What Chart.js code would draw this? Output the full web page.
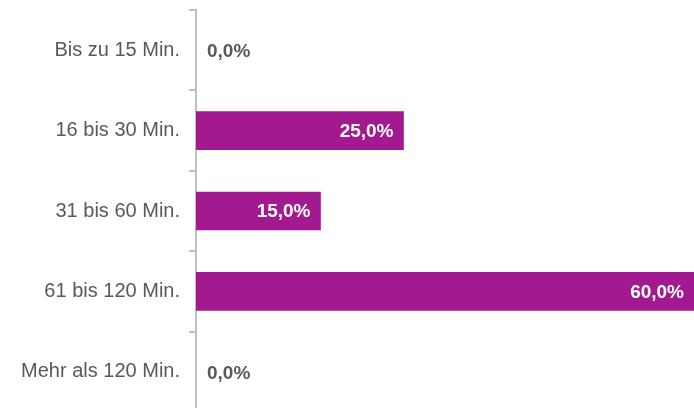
<!DOCTYPE html>
<html>
<head>
<meta charset="utf-8">
<script src="https://cdn.jsdelivr.net/npm/chart.js@4"></script>
<style>
  html, body { margin: 0; padding: 0; background: #fff; overflow: hidden; }
  #wrap { width: 694px; height: 412px; }
</style>
</head>
<body>
<div id="wrap"><canvas id="chart"></canvas></div>
<script>
const categories = ['Bis zu 15 Min.', '16 bis 30 Min.', '31 bis 60 Min.', '61 bis 120 Min.', 'Mehr als 120 Min.'];
const shares = [0.0, 25.0, 15.0, 60.0, 0.0];
const axisMax = 60;

const barColor = '#A3198F';
const textGray = '#595959';

// Werte an den Balken: innen weiß, bei 0 außen grau
const valueLabels = {
  id: 'valueLabels',
  afterDatasetsDraw(chart) {
    const { ctx } = chart;
    const meta = chart.getDatasetMeta(0);
    ctx.save();
    ctx.font = 'bold 19px "Liberation Sans", Arial, sans-serif';
    ctx.textBaseline = 'middle';
    meta.data.forEach((bar, i) => {
      const v = shares[i];
      const txt = v.toFixed(1).replace('.', ',') + '%';
      if (v === 0) {
        ctx.fillStyle = textGray;
        ctx.textAlign = 'left';
        ctx.fillText(txt, bar.base + 11, bar.y + 2);
      } else {
        ctx.fillStyle = '#ffffff';
        ctx.textAlign = 'right';
        ctx.fillText(txt, bar.x - 10, bar.y + 1);
      }
    });
    ctx.restore();
  }
};

new Chart(document.getElementById('chart').getContext('2d'), {
  type: 'bar',
  data: {
    labels: categories,
    datasets: [{
      data: shares,
      backgroundColor: (c) => (shares[c.dataIndex] === 0 ? 'rgba(0,0,0,0)' : barColor),
      borderWidth: 0,
      barThickness: 38
    }]
  },
  options: {
    indexAxis: 'y',
    responsive: true,
    maintainAspectRatio: false,
    animation: false,
    layout: { padding: { top: 10, right: 0, bottom: 0, left: 0 } },
    plugins: {
      legend: { display: false },
      tooltip: { enabled: false }
    },
    scales: {
      x: {
        display: false,
        min: 0,
        max: axisMax
      },
      y: {
        offset: true,
        afterFit: (scale) => {
          scale.width = 196;
          scale.paddingTop = 0;
          scale.paddingBottom = 0;
        },
        border: { display: true, color: '#BFBFBF', width: 2 },
        grid: {
          offset: true,
          drawOnChartArea: false,
          drawTicks: true,
          tickLength: 7,
          color: '#BFBFBF',
          lineWidth: 2
        },
        ticks: {
          padding: 9,
          color: textGray,
          font: { family: '"Liberation Sans", Arial, sans-serif', size: 20 }
        }
      }
    }
  },
  plugins: [valueLabels]
});
</script>
</body>
</html>
